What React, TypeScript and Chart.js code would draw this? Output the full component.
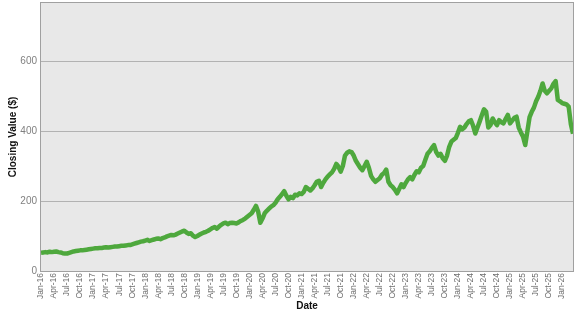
import React, { useEffect, useRef } from 'react';
import { Chart, registerables } from 'chart.js';

Chart.register(...registerables);

// Closing values, two readings per month (1st and mid-month), Jan 2016 onward
const v2016 = [52, 53, 54, 53, 55, 54, 55, 56, 54, 53, 51, 50, 50, 52, 54, 56, 57, 58, 59, 59, 60, 61, 62, 63];
const v2017 = [64, 65, 65, 66, 66, 67, 68, 67, 68, 69, 70, 70, 71, 72, 72, 73, 74, 74, 76, 78, 80, 82, 84, 85];
const v2018 = [87, 89, 86, 88, 90, 92, 93, 91, 94, 96, 99, 101, 103, 102, 104, 107, 110, 113, 115, 110, 106, 108, 101, 97];
const v2019 = [100, 104, 107, 110, 112, 115, 119, 123, 126, 121, 127, 132, 136, 138, 134, 137, 138, 137, 136, 139, 143, 146, 150, 155];
const v2020 = [160, 165, 175, 186, 170, 138, 150, 165, 172, 178, 184, 188, 195, 205, 212, 220, 228, 215, 205, 212, 208, 218, 216, 222];
const v2021 = [220, 226, 240, 235, 230, 236, 245, 255, 258, 240, 252, 262, 270, 276, 282, 292, 306, 298, 284, 300, 330, 338, 342, 340];
const v2022 = [330, 315, 305, 295, 288, 300, 312, 295, 272, 262, 255, 260, 265, 275, 280, 290, 255, 245, 240, 232, 222, 235, 248, 240];
const v2023 = [252, 262, 268, 262, 275, 285, 282, 295, 300, 318, 335, 342, 352, 360, 340, 330, 335, 322, 315, 330, 355, 370, 375, 380];
const v2024 = [395, 412, 405, 410, 420, 428, 431, 415, 393, 410, 427, 445, 462, 455, 410, 417, 436, 425, 417, 431, 425, 422, 435, 446];
const v2025 = [422, 430, 438, 441, 410, 396, 384, 360, 400, 440, 455, 467, 485, 498, 515, 536, 515, 508, 515, 522, 535, 543, 489, 485];
const v2026 = [480, 478, 476, 470, 420, 392];

const closingValues = [...v2016, ...v2017, ...v2018, ...v2019, ...v2020, ...v2021, ...v2022, ...v2023, ...v2024, ...v2025, ...v2026];

const xTickLabels = [
  'Jan-16', 'Apr-16', 'Jul-16', 'Oct-16',
  'Jan-17', 'Apr-17', 'Jul-17', 'Oct-17',
  'Jan-18', 'Apr-18', 'Jul-18', 'Oct-18',
  'Jan-19', 'Apr-19', 'Jul-19', 'Oct-19',
  'Jan-20', 'Apr-20', 'Jul-20', 'Oct-20',
  'Jan-21', 'Apr-21', 'Jul-21', 'Oct-21',
  'Jan-22', 'Apr-22', 'Jul-22', 'Oct-22',
  'Jan-23', 'Apr-23', 'Jul-23', 'Oct-23',
  'Jan-24', 'Apr-24', 'Jul-24', 'Oct-24',
  'Jan-25', 'Apr-25', 'Jul-25', 'Oct-25',
  'Jan-26',
];
const yTickValues = [0, 200, 400, 600];

const FONT = "'Liberation Sans', Arial, Helvetica, sans-serif";

const plotArea = {
  id: 'plotArea',
  beforeDraw(chart: any) {
    const { ctx, chartArea: a } = chart;
    ctx.save();
    ctx.fillStyle = '#e8e8e8';
    ctx.fillRect(a.left, a.top, a.right - a.left, a.bottom - a.top);
    ctx.restore();
  },
  beforeDatasetsDraw(chart: any) {
    const { ctx, chartArea: a } = chart;
    ctx.save();
    ctx.strokeStyle = '#a0a0a0';
    ctx.lineWidth = 1;
    ctx.strokeRect(Math.round(a.left) - 0.5, Math.round(a.top) - 0.5, Math.round(a.right - a.left) + 1, Math.round(a.bottom - a.top) + 1);
    ctx.restore();
  },
};

export default function App() {
  const ref = useRef<HTMLCanvasElement | null>(null);

  useEffect(() => {
    if (!ref.current) return;
    const points = closingValues.map((v, i) => ({ x: i * 0.5, y: v }));
    const chart = new Chart(ref.current, {
      type: 'line',
      data: {
        datasets: [
          {
            label: 'Closing Value',
            data: points,
            borderColor: '#4ea83d',
            borderWidth: 4.5,
            pointRadius: 0,
            tension: 0,
            borderJoinStyle: 'round',
            fill: false,
          },
        ],
      },
      options: {
        animation: false,
        responsive: true,
        maintainAspectRatio: false,
        layout: { padding: { top: 3, right: 4, bottom: 0, left: 0 } },
        plugins: {
          legend: { display: false },
          tooltip: { enabled: false },
        },
        scales: {
          x: {
            type: 'linear',
            min: 0,
            max: 122.5,
            grid: { display: false, drawTicks: false },
            border: { display: false },
            afterBuildTicks: (scale: any) => {
              scale.ticks = xTickLabels.map((_, i) => ({ value: i * 3 }));
            },
            afterFit: (scale: any) => {
              scale.height = 44;
              scale.paddingLeft = 0;
              scale.paddingRight = 0;
            },
            ticks: {
              autoSkip: false,
              minRotation: 90,
              maxRotation: 90,
              padding: 2,
              color: '#6e6e6e',
              font: { family: FONT, size: 8.5 },
              callback: (value: any) => xTickLabels[Math.round(Number(value) / 3)] ?? '',
            },
            title: {
              display: true,
              text: 'Date',
              color: '#111',
              font: { family: FONT, size: 10, weight: 'bold' },
              padding: { top: 0, bottom: 3 },
            },
          },
          y: {
            min: 0,
            max: 766,
            grid: { color: '#b2b2b2', lineWidth: 1, drawTicks: false },
            border: { display: false },
            afterBuildTicks: (scale: any) => {
              scale.ticks = yTickValues.map((v) => ({ value: v }));
            },
            afterFit: (scale: any) => {
              scale.width = 41;
              scale.paddingTop = 0;
              scale.paddingBottom = 0;
            },
            ticks: {
              padding: 4,
              color: '#808080',
              font: { family: FONT, size: 10 },
            },
            title: {
              display: true,
              text: 'Closing Value ($)',
              color: '#111',
              font: { family: FONT, size: 10, weight: 'bold' },
              padding: { top: 7, bottom: 0 },
            },
          },
        },
      },
      plugins: [plotArea],
    } as any);
    return () => chart.destroy();
  }, []);

  return (
    <div style={{ position: 'absolute', left: 0, top: 0, width: 577, height: 315, background: '#fff' }}>
      <canvas ref={ref} />
    </div>
  );
}
